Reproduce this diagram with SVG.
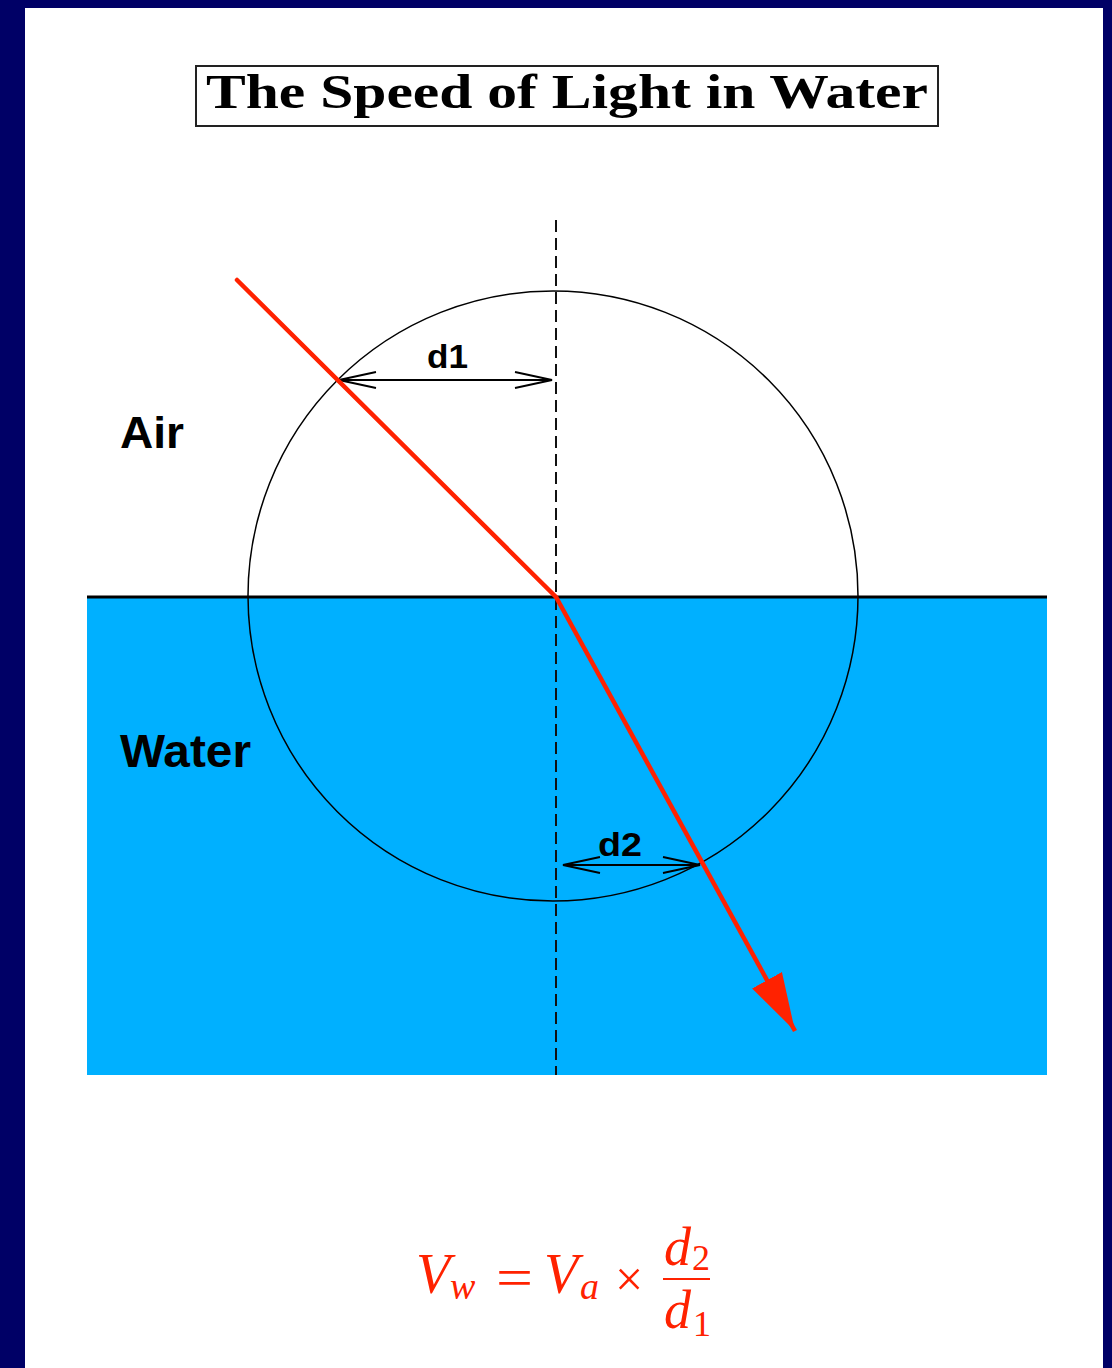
<svg xmlns="http://www.w3.org/2000/svg" width="1112" height="1368" viewBox="0 0 1112 1368">
<style>
.lbl{font-family:"Liberation Sans",Arial,sans-serif;font-weight:bold;fill:#000}
.math{font-family:"Liberation Serif","Times New Roman",serif;font-style:italic;fill:#ff2200}
.mrm{font-family:"Liberation Serif","Times New Roman",serif;fill:#ff2200}
.dim{stroke:#000;stroke-width:1.8;fill:none}
</style>
<defs>
<marker id="open" viewBox="0 0 40 20" refX="39" refY="10" markerWidth="40" markerHeight="20" markerUnits="userSpaceOnUse" orient="auto-start-reverse">
<path d="M2,2 L39,10 L2,18" fill="none" stroke="#000" stroke-width="1.8"/>
</marker>
<marker id="redhead" viewBox="0 0 60 36" refX="58" refY="18" markerWidth="60" markerHeight="36" markerUnits="userSpaceOnUse" orient="auto">
<path d="M0,1 L58,18 L0,35 Z" fill="#ff2200"/>
</marker>
</defs>
<rect x="0" y="0" width="1112" height="1368" fill="#000066"/>
<rect x="25" y="8" width="1078" height="1360" fill="#ffffff"/>
<g id="title">
<rect x="196" y="66" width="742" height="60" fill="#fff" stroke="#222" stroke-width="2"/>
<text x="206" y="108" font-family="'Liberation Serif','Times New Roman',serif" font-weight="bold" font-size="48" textLength="722" lengthAdjust="spacingAndGlyphs">The Speed of Light in Water</text>
</g>
<g id="water">
<rect x="87" y="597" width="960" height="478" fill="#00b0ff"/>
<line x1="87" y1="597" x2="1047" y2="597" stroke="#000" stroke-width="3"/>
</g>
<g id="circle">
<circle cx="553" cy="596" r="305" fill="none" stroke="#000" stroke-width="1.5"/>
</g>
<g id="normal">
<line x1="556" y1="220" x2="556" y2="1075" stroke="#111" stroke-width="2" stroke-dasharray="12,6"/>
</g>
<g id="labels">
<text class="lbl" x="120" y="448" font-size="45" textLength="64" lengthAdjust="spacingAndGlyphs">Air</text>
<text class="lbl" x="120" y="767" font-size="46" textLength="131" lengthAdjust="spacingAndGlyphs">Water</text>
<text class="lbl" x="427" y="368" font-size="33" textLength="41" lengthAdjust="spacingAndGlyphs">d1</text>
<text class="lbl" x="598" y="856" font-size="33" textLength="44" lengthAdjust="spacingAndGlyphs">d2</text>
</g>
<g id="connectors">
<line class="dim" x1="339" y1="380" x2="552" y2="380" marker-start="url(#open)" marker-end="url(#open)"/>
<line class="dim" x1="563" y1="865" x2="700" y2="865" marker-start="url(#open)" marker-end="url(#open)"/>
<line x1="237" y1="280" x2="556" y2="597" stroke="#ff2200" stroke-width="4.5" stroke-linecap="round"/>
<line x1="556" y1="597" x2="795" y2="1031" stroke="#ff2200" stroke-width="4.5" marker-end="url(#redhead)"/>
</g>
<g id="formula">
<text class="math" x="416" y="1293" font-size="56">V</text>
<text class="math" x="450" y="1299" font-size="38">w</text>
<text class="mrm" x="496" y="1296" font-size="54" textLength="37" lengthAdjust="spacingAndGlyphs">=</text>
<text class="math" x="544" y="1293" font-size="56">V</text>
<text class="math" x="580" y="1299" font-size="38">a</text>
<text class="mrm" x="615" y="1296" font-size="50">×</text>
<text class="math" x="664" y="1265" font-size="54">d</text>
<text class="mrm" x="692" y="1270" font-size="36">2</text>
<line x1="663" y1="1279" x2="710" y2="1279" stroke="#ff2200" stroke-width="2.2"/>
<text class="math" x="664" y="1328" font-size="54">d</text>
<text class="mrm" x="693" y="1336" font-size="36">1</text>
</g>
</svg>
